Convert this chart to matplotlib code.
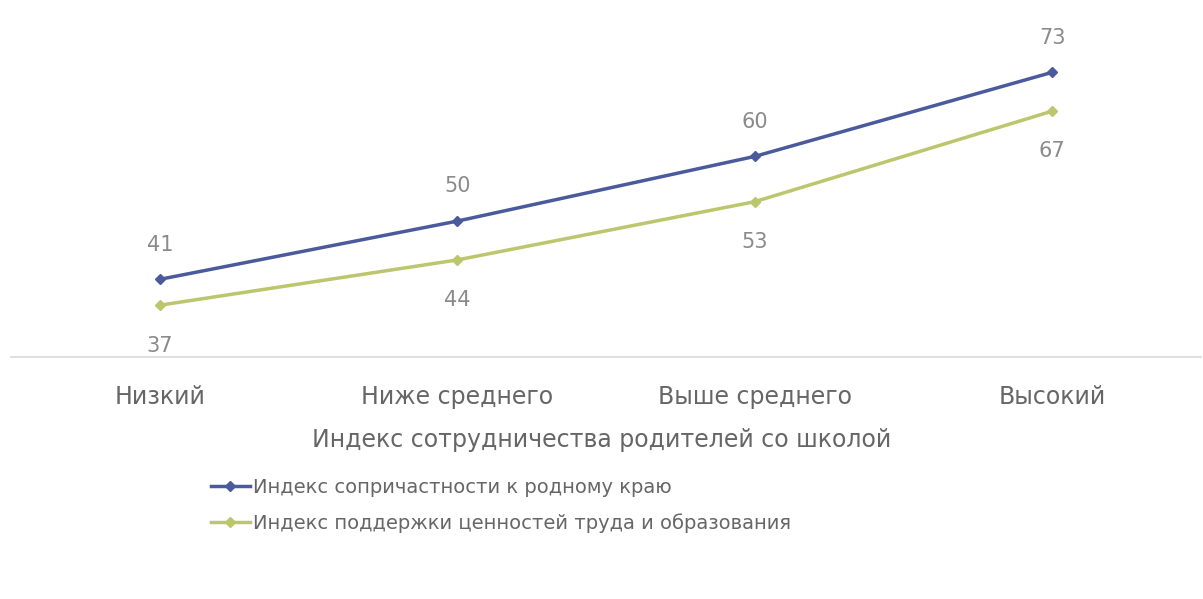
import matplotlib
matplotlib.use("Agg")
import matplotlib.pyplot as plt

categories = ["Низкий", "Ниже среднего", "Выше среднего", "Высокий"]
series1_name = "Индекс сопричастности к родному краю"
series1 = [41, 50, 60, 73]
series2_name = "Индекс поддержки ценностей труда и образования"
series2 = [37, 44, 53, 67]
x_title = "Индекс сотрудничества родителей со школой"

blue = "#4a5a9c"
green = "#bcc66c"
grey = "#8a8a8a"
text_grey = "#666666"

plt.rcParams['font.family'] = ['DejaVu Sans']
fig = plt.figure(figsize=(12.03, 5.99), dpi=100)
ax = fig.add_axes([11/1203, 1 - 357/599, 1190/1203, 330/599])

x = list(range(len(categories)))
l1, = ax.plot(x, series1, color=blue, lw=2.5, marker='D', ms=5, label=series1_name)
l2, = ax.plot(x, series2, color=green, lw=2.5, marker='D', ms=5, label=series2_name)

for xi, v in zip(x, series1):
    ax.annotate(str(v), (xi, v), xytext=(0, 25), textcoords='offset points',
                ha='center', va='center', color=grey, fontsize=15)
for xi, v in zip(x, series2):
    ax.annotate(str(v), (xi, v), xytext=(0, -29), textcoords='offset points',
                ha='center', va='center', color=grey, fontsize=15)

ax.set_xlim(-0.5, len(categories) - 0.5)
ax.set_ylim(29, 80)
ax.set_yticks([])
ax.set_xticks(x)
ax.set_xticklabels(categories, color=text_grey, fontsize=17)
ax.tick_params(axis='x', length=0, pad=20)
for s in ['top', 'right', 'left']:
    ax.spines[s].set_visible(False)
ax.spines['bottom'].set_color('#d9d9d9')
ax.spines['bottom'].set_linewidth(1.2)

fig.text(0.5, 1 - 440/599, x_title, ha='center', va='center', color=text_grey, fontsize=17)

leg = fig.legend(handles=[l1, l2], loc='upper left', bbox_to_anchor=(203/1203, 1 - 470/599),
                 frameon=False, fontsize=14, labelcolor=text_grey, handlelength=2.0,
                 handletextpad=0.15, labelspacing=0.85, borderaxespad=0)

fig.savefig("out.png", dpi=100)
